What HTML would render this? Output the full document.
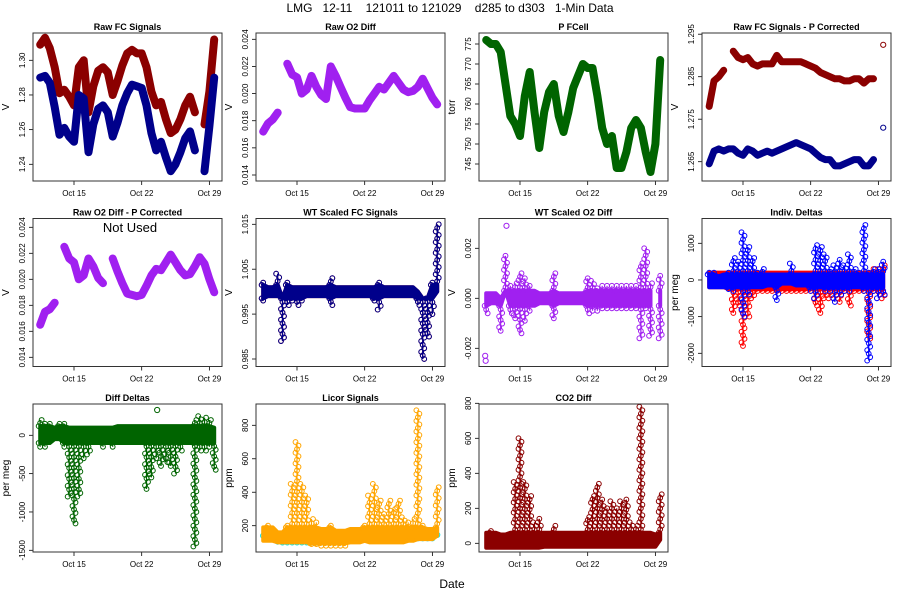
<!DOCTYPE html>
<html><head><meta charset="utf-8"><style>
body{margin:0;background:#fff}
svg{display:block;font-family:"Liberation Sans",sans-serif}
</style></head><body>
<svg id="chart" width="900" height="600" viewBox="0 0 900 600" xmlns="http://www.w3.org/2000/svg">
<rect width="900" height="600" fill="#fff"/>
<text x="450" y="12" font-size="12" text-anchor="middle" xml:space="preserve">LMG   12-11    121011 to 121029    d285 to d303   1-Min Data</text>
<text x="452" y="588" font-size="12" text-anchor="middle">Date</text>
</svg>
<script>
const days = [11.5,12,12.5,13,13.5,14,14.5,15,15.5,16,16.5,17,17.5,18,18.5,19,19.5,20,20.5,21,21.5,22,22.5,23,23.5,24,24.5,25,25.5,26,26.5,27,27.5,28,28.5,29,29.5];
const xTickDays = [15,22,29];
const xTickLabels = ["Oct 15","Oct 22","Oct 29"];

const fcRed  = [1.309,1.313,1.307,1.296,1.281,1.283,1.279,1.274,1.296,1.300,1.270,1.285,1.294,1.296,1.293,1.280,1.288,1.297,1.304,1.306,1.304,1.304,1.296,1.282,1.274,1.276,1.266,1.258,1.260,1.266,1.274,1.279,1.270,null,1.263,1.282,1.312];
const fcBlue = [1.290,1.291,1.287,1.273,1.257,1.261,1.256,1.253,1.280,1.278,1.247,1.263,1.272,1.274,1.270,1.256,1.264,1.274,1.281,1.286,1.285,1.284,1.274,1.258,1.248,1.253,1.244,1.236,1.240,1.247,1.255,1.259,1.248,null,1.236,1.262,1.290];
const o2Raw  = [0.0172,0.0178,0.0181,0.0186,null,0.0222,0.0214,0.0212,0.0200,0.0203,0.0213,0.0205,0.0199,0.0196,0.0220,0.0213,0.0205,0.0197,0.0190,0.0189,0.0189,0.0189,0.0195,0.0200,0.0205,0.0203,0.0208,0.0213,0.0208,0.0203,0.0201,0.0202,0.0205,0.0211,0.0204,0.0197,0.0192];
const pCell  = [776,775,775,773,765,757,755,752,762,768,758,749,758,763,765,757,753,758,764,767,770,769,769,762,754,750,752,744,744,748,754,756,754,748,743,750,771];
const pcRed  = [1.278,1.284,1.285,1.2865,null,1.291,1.2895,1.289,1.2895,1.288,1.2875,1.288,1.288,1.288,1.290,1.2885,1.2885,1.2885,1.2885,1.2885,1.288,1.2875,1.287,1.286,1.2855,1.285,1.2845,1.2845,1.284,1.284,1.2845,1.2845,1.2835,1.2845,1.2845,null,1.2925];
const pcBlue = [1.2645,1.2675,1.268,1.2675,1.268,1.268,1.267,1.2665,1.268,1.2675,1.2665,1.267,1.2675,1.267,1.2675,1.268,1.2685,1.269,1.2695,1.269,1.2685,1.268,1.267,1.266,1.2655,1.2655,1.264,1.264,1.2645,1.265,1.2655,1.2655,1.264,1.264,1.2655,null,1.273];
const o2Pc   = [0.0165,0.0175,0.0177,0.0182,null,0.0225,0.0216,0.0213,0.0200,0.0203,0.0216,0.0210,0.0201,0.0197,null,0.0216,0.0206,0.0197,0.0189,0.0188,0.0187,0.0188,0.0195,0.0203,0.0208,0.0207,0.0213,0.0219,0.0213,0.0207,0.0203,0.0204,0.0210,0.0217,0.0212,0.0200,0.0190];
const wtLo = [0.998,0.999,0.999,0.999,0.989,0.997,0.998,0.997,0.998,0.999,0.999,0.999,0.999,0.999,0.997,0.999,0.999,0.999,0.999,0.999,0.999,0.999,0.999,0.998,0.996,0.999,0.999,0.999,0.999,0.999,0.999,0.999,0.997,0.985,0.990,0.995,1.000];
const wtHi = [1.002,1.001,1.001,1.004,0.994,1.002,1.001,1.001,1.001,1.001,1.001,1.001,1.001,1.001,1.003,1.001,1.001,1.001,1.001,1.001,1.001,1.001,1.001,1.001,1.002,1.001,1.001,1.001,1.001,1.001,1.001,1.001,1.000,0.993,0.993,1.002,1.015];
const wo2Lo = [-0.0006,-0.0002,-0.0002,-0.0013,0.0006,-0.0006,-0.0008,-0.0014,-0.0009,-0.0005,-0.0003,-0.0002,-0.0002,-0.0002,-0.0008,-0.0002,-0.0002,-0.0002,-0.0002,-0.0002,-0.0002,-0.0006,-0.0005,-0.0005,-0.0004,-0.0004,-0.0004,-0.0004,-0.0004,-0.0004,-0.0004,-0.0004,-0.0016,-0.0004,-0.0015,null,-0.0016];
const wo2Hi = [0.0002,0.0002,0.0002,0.0000,0.0017,0.0005,0.0006,0.0010,0.0008,0.0005,0.0003,0.0002,0.0002,0.0002,0.0010,0.0002,0.0002,0.0002,0.0002,0.0002,0.0002,0.0008,0.0007,0.0004,0.0005,0.0005,0.0005,0.0005,0.0005,0.0005,0.0005,0.0005,0.0014,0.0020,0.0006,null,0.0009];
const wo2OutDays = [11.4,11.45,13.6];
const wo2OutVals = [-0.0023,-0.0025,0.0029];
const idRedLo = [-200,-200,-200,-200,-250,-900,-700,-1800,-1000,-500,-300,-300,-300,-300,-300,-300,-300,-300,-300,-300,-300,-300,-700,-900,-500,-500,-500,-600,-300,-700,-300,-300,-300,-1600,-300,-400,-500];
const idRedHi = [200,200,200,200,200,200,200,200,200,200,200,200,200,200,200,200,200,200,200,200,200,200,200,200,200,200,200,200,200,200,200,200,200,200,300,300,400];
const idBlueLo = [-200,-200,-200,-200,-250,-300,-200,-1000,-400,-200,-200,-200,-150,-150,-550,-100,-100,-100,-150,-150,-150,-300,-500,-200,-300,-300,-600,-400,-300,-300,-200,-200,-300,-2200,-300,-500,-400];
const idBlueHi = [200,200,100,150,200,600,500,1300,900,600,200,300,150,150,150,150,150,450,150,150,150,150,950,900,700,300,400,550,400,700,300,200,1500,200,300,300,500];
const ddLo = [-150,-150,-100,-50,-50,-150,-800,-1150,-800,-300,-250,-100,-100,-150,-100,-150,-100,-100,-100,-100,-100,-100,-700,-550,-300,-400,-350,-400,-500,-200,-100,-100,-1450,-200,-200,-150,-450];
const ddHi = [200,150,150,100,150,150,100,100,100,100,100,100,100,100,100,100,120,120,120,120,120,120,120,120,120,120,120,120,120,120,120,120,200,250,230,200,100];
const ddOutDays = [23.6];
const ddOutVals = [330];
const licLo = [110,110,110,100,100,100,100,100,100,100,90,90,80,80,80,80,80,80,100,100,100,110,100,100,100,100,100,100,100,100,110,110,120,120,120,120,140];
const licHi = [190,200,190,160,160,200,450,700,450,380,240,220,180,180,200,170,170,170,180,180,180,200,380,450,350,270,350,300,350,250,220,240,890,200,180,180,430];
const licCyan = [140,130,120,105,100,100,100,100,100,100,100,100,100,100,100,100,100,105,110,112,115,115,115,115,115,115,115,115,115,118,120,122,125,125,125,125,145];
const co2Lo = [-25,-25,-25,-25,-25,-25,-25,-25,-25,-25,-25,-25,-20,-20,-20,-20,-20,-20,-20,-20,-20,-20,-20,-20,-20,-20,-20,-20,-20,-20,-20,-20,-20,-20,-20,-20,20];
const co2Hi = [60,70,60,50,50,60,350,600,350,270,120,140,60,60,100,60,60,60,60,60,60,150,270,340,250,200,240,200,240,250,120,100,780,60,60,50,280];

const svg = document.getElementById('chart');
const NS = 'http://www.w3.org/2000/svg';
function mk(tag, attrs, parent){const e=document.createElementNS(NS,tag);for(const k in attrs)e.setAttribute(k,attrs[k]);(parent||svg).appendChild(e);return e;}

function panel(col,row,title,ylab,v1,p1,v2,p2,ticks,labels,name){
  const L=33+223*col, T=[33,218.5,404][row], W=189, H=148;
  const g=mk('g',{});
  
  
  const xs=d=>L+41+(d-15)*9.67;
  const ys=v=>p1+(v-v1)*(p2-p1)/(v2-v1);
  const t=mk('text',{x:L+W/2,y:T-3,'font-size':9,'font-weight':'bold','text-anchor':'middle'},g);
  t.textContent=title;
  
  
  const yl=mk('text',{x:L-24,y:T+H/2,'font-size':10,'text-anchor':'middle',transform:`rotate(-90 ${L-24} ${T+H/2})`},g);
  yl.textContent=ylab;
  
  
  xTickDays.forEach((d,i)=>{
    const x=xs(d);
    mk('line',{x1:x,x2:x,y1:T+H,y2:T+H+4,stroke:'#000','stroke-width':0.8},g);
    const tl=mk('text',{x:x,y:T+H+15,'font-size':8,'text-anchor':'middle'},g);
    tl.textContent=xTickLabels[i];
    
    
  });
  mk('line',{x1:xs(15),x2:xs(29),y1:T+H,y2:T+H,stroke:'#000','stroke-width':0.8},g);
  ticks.forEach((v,i)=>{
    const y=ys(v);
    mk('line',{x1:L-4,x2:L,y1:y,y2:y,stroke:'#000','stroke-width':0.8},g);
    const tl=mk('text',{x:L-8,y:y,'font-size':8,'text-anchor':'middle',transform:`rotate(-90 ${L-8} ${y})`},g);
    tl.textContent=labels[i];
    
    
  });
  mk('line',{x1:L,x2:L,y1:ys(ticks[0]),y2:ys(ticks[ticks.length-1]),stroke:'#000','stroke-width':0.8},g);
  const plot=mk('g',{},g);
  const box=mk('rect',{x:L,y:T,width:W,height:H,fill:'none',stroke:'#333','stroke-width':1},g);
  
  
  return {xs,ys,plot};
}
function lineSeries(P,vals,color,name,w){
  const g=mk('g',{},P.plot);
  
  
  let d='',pen=false;
  vals.forEach((v,i)=>{
    if(v===null){pen=false;return;}
    d+=(pen?'L':'M')+P.xs(days[i]).toFixed(1)+' '+P.ys(v).toFixed(1)+' ';pen=true;
  });
  mk('path',{d:d,fill:'none',stroke:color,'stroke-width':w||8,'stroke-linecap':'round','stroke-linejoin':'round'},g);
  vals.forEach((v,i)=>{ if(v===null)return;
    mk('circle',{cx:P.xs(days[i]),cy:P.ys(v),r:2.6,fill:'none',stroke:color,'stroke-width':1},g);});
}
function bandSeries(P,lo,hi,color,name,bLo,bHi){
  const g=mk('g',{},P.plot);
  
  
  const cl=v=>Math.max(bLo,Math.min(bHi,v));
  let seg=[];
  const flush=()=>{ if(seg.length){
      let pts=seg.map(i=>P.xs(days[i]).toFixed(1)+','+P.ys(cl(hi[i])).toFixed(1));
      pts=pts.concat(seg.slice().reverse().map(i=>P.xs(days[i]).toFixed(1)+','+P.ys(cl(lo[i])).toFixed(1)));
      mk('polygon',{points:pts.join(' '),fill:color,stroke:color,'stroke-width':4,'stroke-linejoin':'round'},g);
    } seg=[]; };
  lo.forEach((v,i)=>{ if(v===null||hi[i]===null){flush();return;} seg.push(i); });
  flush();
  const column=(x,v0,v1)=>{
    const y0=P.ys(v0), y1=P.ys(v1);
    mk('line',{x1:x,x2:x,y1:y0,y2:y1,stroke:color,'stroke-width':1.2},g);
    const n=Math.max(1,Math.round(Math.abs(y1-y0)/3.5));
    for(let k=0;k<=n;k++){
      const y=y0+(y1-y0)*k/n, dx=((k%3)-1)*1.5;
      mk('circle',{cx:x+dx,cy:y,r:2.4,fill:'none',stroke:color,'stroke-width':1},g);
    }
  };
  lo.forEach((v,i)=>{ if(v===null)return;
    const x=P.xs(days[i]);
    if(hi[i]>bHi) column(x,bHi,hi[i]);
    if(lo[i]<bLo) column(x,bLo,lo[i]);
  });
}
function outliers(P,ds,vs,color,name){
  ds.forEach((d,i)=>{
    const c=mk('circle',{cx:P.xs(d),cy:P.ys(vs[i]),r:2.6,fill:'none',stroke:color,'stroke-width':1},P.plot);
    
    
  });
}

let P;
P=panel(0,0,'Raw FC Signals','V',1.30,60.3,1.24,164.3,[1.24,1.26,1.28,1.30],['1.24','1.26','1.28','1.30'],'raw-fc');
lineSeries(P,fcRed,'#8B0000','raw-fc-red-series',8);
lineSeries(P,fcBlue,'#00008B','raw-fc-blue-series',8);

P=panel(1,0,'Raw O2 Diff','V',0.024,39.3,0.014,175,[0.014,0.016,0.018,0.020,0.022,0.024],['0.014','0.016','0.018','0.020','0.022','0.024'],'raw-o2');
lineSeries(P,o2Raw,'#A020F0','raw-o2-series',8);

P=panel(2,0,'P FCell','torr',775,44,745,164,[745,750,755,760,765,770,775],['745','750','755','760','765','770','775'],'p-fcell');
lineSeries(P,pCell,'#006400','p-fcell-series',8);

P=panel(3,0,'Raw FC Signals - P Corrected','V',1.285,76.7,1.265,161.7,[1.265,1.275,1.285,1.295],['1.265','1.275','1.285','1.295'],'raw-fc-pc');
lineSeries(P,pcRed,'#8B0000','raw-fc-pc-red-series',7);
lineSeries(P,pcBlue,'#00008B','raw-fc-pc-blue-series',7);

P=panel(0,1,'Raw O2 Diff - P Corrected','V',0.024,227.3,0.014,357.3,[0.014,0.016,0.018,0.020,0.022,0.024],['0.014','0.016','0.018','0.020','0.022','0.024'],'raw-o2-pc');
lineSeries(P,o2Pc,'#A020F0','raw-o2-pc-series',8);
const nu=mk('text',{x:130,y:232,'font-size':13,'text-anchor':'middle'});
nu.textContent='Not Used';



P=panel(1,1,'WT Scaled FC Signals','V',1.015,224.3,0.985,359,[0.985,0.995,1.005,1.015],['0.985','0.995','1.005','1.015'],'wt-fc');
bandSeries(P,wtLo,wtHi,'#B22222','wt-fc-red-series',0.9985,1.0015);
bandSeries(P,wtLo,wtHi,'#00008B','wt-fc-blue-series',0.9985,1.0015);

P=panel(2,1,'WT Scaled O2 Diff','V',0.002,248.3,-0.002,348.3,[-0.002,0,0.002],['-0.002','0.000','0.002'],'wt-o2');
bandSeries(P,wo2Lo,wo2Hi,'#A020F0','wt-o2-series',-0.0003,0.0003);
outliers(P,wo2OutDays,wo2OutVals,'#A020F0','wt-o2-outlier');

P=panel(3,1,'Indiv. Deltas','per meg',1000,243.3,-2000,353.3,[-2000,-1000,0,1000],['-2000','-1000','0','1000'],'indiv-deltas');
bandSeries(P,idRedLo,idRedHi,'#FF0000','indiv-red-series',-250,200);
bandSeries(P,idBlueLo,idBlueHi,'#0000FF','indiv-blue-series',-200,150);

P=panel(0,2,'Diff Deltas','per meg',0,435.3,-1500,550.3,[-1500,-1000,-500,0],['-1500','-1000','-500','0'],'diff-deltas');
bandSeries(P,ddLo,ddHi,'#006400','diff-deltas-series',-100,120);
outliers(P,ddOutDays,ddOutVals,'#006400','diff-deltas-outlier');

P=panel(1,2,'Licor Signals','ppm',800,425.3,200,525.7,[200,400,600,800],['200','400','600','800'],'licor');
lineSeries(P,licCyan,'#00E5EE','licor-cyan-series',3);
bandSeries(P,licLo,licHi,'#FFA500','licor-orange-series',95,190);

P=panel(2,2,'CO2 Diff','ppm',800,403.3,0,543.3,[0,200,400,600,800],['0','200','400','600','800'],'co2-diff');
bandSeries(P,co2Lo,co2Hi,'#8B0000','co2-diff-series',-25,60);
</script>
</body></html>
